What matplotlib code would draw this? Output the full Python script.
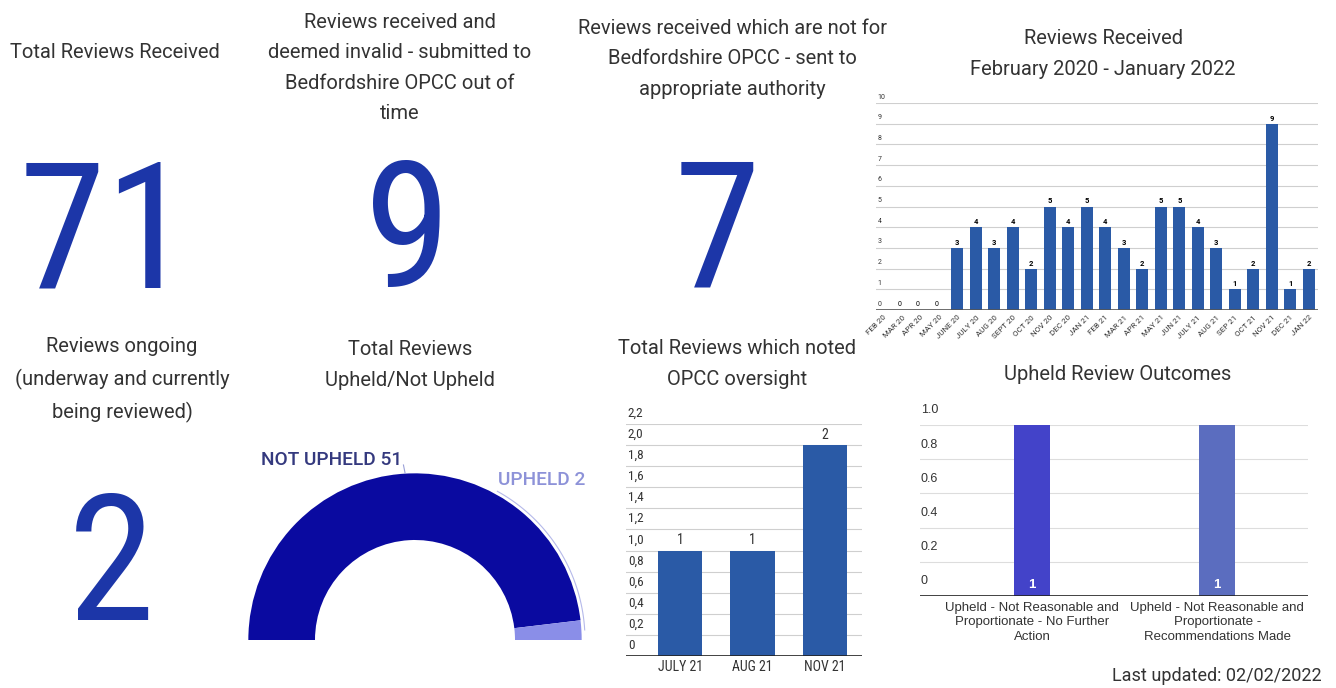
import numpy as np
import matplotlib
matplotlib.use('Agg')
import matplotlib.pyplot as plt

plt.rcParams['font.family'] = ['Roboto', 'DejaVu Sans']
NUMFONT = ['Roboto Condensed', 'Roboto']
NARROW = ['Liberation Sans Narrow', 'Roboto Condensed']
ARIAL = ['Liberation Sans', 'Roboto']

W, H = 1336, 688

# ---- data ----
total_received = 71
invalid_out_of_time = 9
not_for_beds = 7
ongoing = 2

months = ['FEB 20', 'MAR 20', 'APR 20', 'MAY 20', 'JUNE 20', 'JULY 20', 'AUG 20',
          'SEPT 20', 'OCT 20', 'NOV 20', 'DEC 20', 'JAN 21', 'FEB 21', 'MAR 21',
          'APR 21', 'MAY 21', 'JUN 21', 'JULY 21', 'AUG 21', 'SEP 21', 'OCT 21',
          'NOV 21', 'DEC 21', 'JAN 22']
received = [0, 0, 0, 0, 3, 4, 3, 4, 2, 5, 4, 5, 4, 3, 2, 5, 5, 4, 3, 1, 2, 9, 1, 2]

upheld_labels = ['NOT UPHELD', 'UPHELD']
upheld_vals = [51, 2]

oversight_months = ['JULY 21', 'AUG 21', 'NOV 21']
oversight_vals = [1, 1, 2]

outcome_labels = ['Upheld - Not Reasonable and\nProportionate - No Further\nAction',
                  'Upheld - Not Reasonable and\nProportionate -\nRecommendations Made']
outcome_vals = [1, 1]

TXT = '#333333'
BIG = '#1c36a8'
BAR = '#2a5aa6'


def px_axes(l, t, r, b):
    return fig.add_axes([l / W, 1 - b / H, (r - l) / W, (b - t) / H])


def ftext(x, y, s, **kw):
    kw.setdefault('ha', 'center')
    kw.setdefault('va', 'center')
    kw.setdefault('color', TXT)
    return fig.text(x / W, 1 - y / H, s, **kw)


def clean(ax):
    ax.set_yticks([])
    for s in ax.spines.values():
        s.set_visible(False)


fig = plt.figure(figsize=(W / 100, H / 100), dpi=100)
fig.patch.set_facecolor('white')

# ---- headline numbers ----
TS = 14.5
LS = 1.74
BS = 127
ftext(115, 52, 'Total Reviews Received', fontsize=TS)
ftext(106, 287, str(total_received), fontsize=BS, color=BIG, family=NUMFONT, va='baseline')

ftext(400, 68, 'Reviews received and\ndeemed invalid - submitted to\nBedfordshire OPCC out of\ntime',
      fontsize=TS, linespacing=LS)
ftext(408, 287, str(invalid_out_of_time), fontsize=BS, color=BIG, family=NUMFONT, va='baseline')

ftext(732, 59, 'Reviews received which are not for\nBedfordshire OPCC - sent to\nappropriate authority',
      fontsize=TS, linespacing=LS)
ftext(717, 286, str(not_for_beds), fontsize=BS, color=BIG, family=NUMFONT, va='baseline')

ftext(122, 380, 'Reviews ongoing\n(underway and currently\nbeing reviewed)',
      fontsize=TS, linespacing=LS)
ftext(111, 620, str(ongoing), fontsize=BS, color=BIG, family=NUMFONT, va='baseline')

# ---- monthly reviews received ----
ftext(1103, 54, 'Reviews Received\nFebruary 2020 - January 2022', fontsize=TS, linespacing=LS)
ax = px_axes(876, 103, 1318, 310)
x = np.arange(len(months))
ax.bar(x, received, width=0.65, color=BAR, zorder=3)
ax.set_xlim(-0.4, len(months) - 0.5)
ax.set_ylim(0, 10)
for v in range(0, 11):
    ax.axhline(v, color='#cfcfcf', lw=0.8, zorder=1)
    ax.text(-0.3, v + 0.12, str(v), fontsize=5, color=TXT, ha='left', va='bottom')
for xi, v in zip(x, received):
    if v > 0:
        ax.text(xi, v + 0.1, str(v), fontsize=5.5, fontweight='bold', ha='center', va='bottom')
    elif xi > 0:
        ax.text(xi - 0.15, 0.12, str(v), fontsize=5, ha='center', va='bottom')
ax.axhline(0, color='#555555', lw=1.2, zorder=4)
ax.set_xticks(x)
ax.set_xticklabels(months, rotation=45, ha='right', rotation_mode='anchor',
                   fontsize=5.8, color=TXT)
ax.tick_params(axis='x', length=0, pad=3)
clean(ax)

# ---- upheld gauge ----
ftext(410, 365, 'Total Reviews\nUpheld/Not Upheld', fontsize=TS, linespacing=LS)
ax = px_axes(215, 440, 615, 650)
dark, light = '#0a0aa0', '#8a8ee8'
ax.pie(upheld_vals + [sum(upheld_vals)], startangle=180, counterclock=False,
       colors=[dark, light, 'none'], radius=1.0,
       wedgeprops=dict(width=0.4, linewidth=0))
ax.set_xlim(-1.2, 1.2)
ax.set_ylim(-0.06, 1.2)
ax.set_aspect('auto')
ax.axis('off')
tot = sum(upheld_vals)
mid0 = np.deg2rad(180 - 180 * upheld_vals[0] / tot / 2)
ax.plot([np.cos(mid0), np.cos(mid0) - 0.01], [1.0, 1.05], color='#9aa0d8', lw=0.8)
ax.text(np.cos(mid0) - 0.015, 1.08, f'{upheld_labels[0]} {upheld_vals[0]}', fontsize=13.8,
        fontweight='medium', color='#34397e', ha='right', va='center')
th = np.linspace(np.deg2rad(180 * upheld_vals[1] / tot / 2), np.deg2rad(61), 40)
ax.plot(1.02 * np.cos(th), 1.02 * np.sin(th), color='#b5b9ea', lw=0.8)
ax.text(0.495, 0.96, f'{upheld_labels[1]} {upheld_vals[1]}', fontsize=13.8,
        fontweight='medium', color='#8d92d8', ha='left', va='center')

# ---- oversight bars ----
ftext(737, 364, 'Total Reviews which noted\nOPCC oversight', fontsize=TS, linespacing=LS)
ax = px_axes(626, 424, 862, 656)
xo = np.arange(len(oversight_months))
ax.bar(xo, oversight_vals, width=0.61, color=BAR, zorder=3)
ax.set_xlim(-0.745, 2.51)
ax.set_ylim(0, 2.2)
for v in np.arange(0, 2.21, 0.2):
    ax.axhline(v, color='#cfcfcf', lw=0.8, zorder=1)
    lab = '0' if v < 0.01 else f'{v:.1f}'.replace('.', ',')
    ax.text(-0.72, v + 0.04, lab, fontsize=9.5, color=TXT, ha='left', va='bottom', family=NARROW)
for xi, v in zip(xo, oversight_vals):
    ax.text(xi, v + 0.03, str(v), fontsize=10, color=TXT, ha='center', va='bottom', family=NARROW)
ax.axhline(0, color='#222222', lw=1.2, zorder=4)
ax.set_xticks(xo)
ax.set_xticklabels(oversight_months, fontsize=10, color=TXT, family=NARROW)
ax.tick_params(axis='x', length=0, pad=3)
clean(ax)

# ---- upheld outcomes ----
ftext(1118, 375, 'Upheld Review Outcomes', fontsize=TS)
ax = px_axes(920, 425, 1308, 596)
xu = np.arange(len(outcome_labels))
ax.bar(xu, outcome_vals, width=0.195, color=['#4343c9', '#5b6dbf'], zorder=3)
ax.set_xlim(-0.605, 1.49)
ax.set_ylim(0, 1.0)
for v in np.arange(0, 1.01, 0.2):
    ax.axhline(v, color='#dddddd', lw=0.8, zorder=1)
    lab = '0' if v < 0.01 else f'{v:.1f}'
    ax.text(-0.6, v + 0.05, lab, fontsize=9, color=TXT, ha='left', va='bottom', family=ARIAL)
for xi, v in zip(xu, outcome_vals):
    ax.text(xi, 0.03, str(v), fontsize=9.5, fontweight='bold', color='white',
            ha='center', va='bottom', zorder=5, family=ARIAL)
ax.axhline(0, color='#222222', lw=1.2, zorder=4)
ax.set_xticks(xu)
ax.set_xticklabels(outcome_labels, fontsize=9.5, color=TXT, linespacing=1.3, family=ARIAL)
ax.tick_params(axis='x', length=0, pad=4)
clean(ax)

ftext(1322, 676, 'Last updated: 02/02/2022', fontsize=13, ha='right')

fig.savefig('out.png', dpi=100, facecolor='white')
